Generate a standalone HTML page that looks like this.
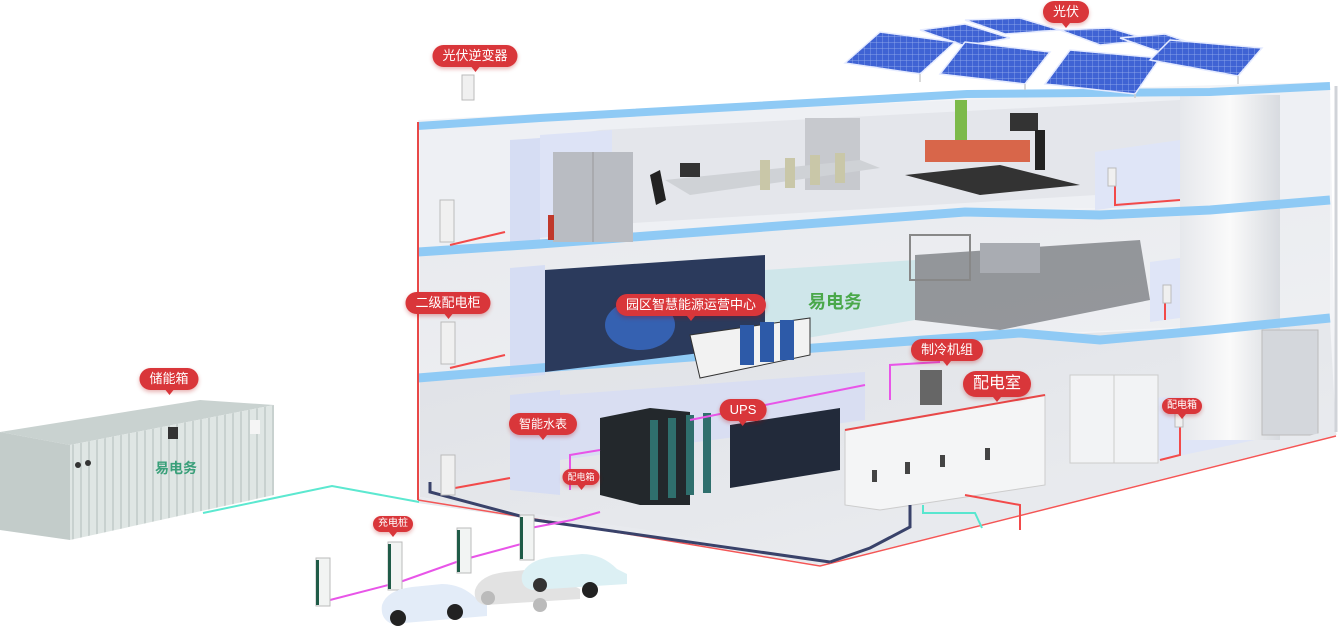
<!DOCTYPE html>
<html><head><meta charset="utf-8"><style>
html,body{margin:0;padding:0;background:#fff;}
body{width:1340px;height:642px;overflow:hidden;position:relative;font-family:"Liberation Sans","Noto Sans CJK SC",sans-serif;}
.lb{position:absolute;background:#d9363a;color:#fff;border-radius:12px;font-size:13px;line-height:22px;height:22px;padding:0 10px;white-space:nowrap;box-shadow:0 2px 4px rgba(180,0,0,.3);transform:translateX(-50%);}
.lb:after{content:"";position:absolute;left:50%;bottom:-5px;margin-left:-4px;border-left:4px solid transparent;border-right:4px solid transparent;border-top:5px solid #d9363a;}
.big{font-size:16px;height:26px;line-height:26px;border-radius:13px;}
.sm{font-size:9px;height:16px;line-height:16px;padding:0 5px;border-radius:8px;}
</style></head><body>
<svg width="1340" height="642" viewBox="0 0 1340 642" style="position:absolute;left:0;top:0">
<defs>
<linearGradient id="col" x1="0" x2="1"><stop offset="0" stop-color="#e6e8ec"/><stop offset=".5" stop-color="#fafafa"/><stop offset="1" stop-color="#d8dbe0"/></linearGradient>
<linearGradient id="flr" x1="0" x2="1" y1="0" y2="1"><stop offset="0" stop-color="#dfe1e6"/><stop offset="1" stop-color="#eceef1"/></linearGradient>
<pattern id="sol" width="6" height="6" patternUnits="userSpaceOnUse"><rect width="6" height="6" fill="#3f63d4"/><path d="M0,0H6M0,0V6" stroke="#9fb4f0" stroke-width=".7"/></pattern>
<pattern id="rib" width="8" height="10" patternUnits="userSpaceOnUse"><rect width="8" height="10" fill="#dfe6e4"/><rect width="2" height="10" fill="#c8d1cf"/></pattern>
</defs>
<!-- building base -->
<polygon points="418,120 967,92 1330,82 1336,430 820,562 418,500" fill="#f3f4f7"/>
<polygon points="420,255 540,246 960,212 1330,205 1330,320 1020,335 420,378" fill="url(#flr)" opacity=".55"/>
<polygon points="420,380 1020,336 1330,322 1336,430 820,560 420,497" fill="url(#flr)"/>
<polygon points="420,130 540,120 960,100 1330,88 1330,205 960,210 420,252" fill="#eef0f4"/>
<polygon points="540,140 600,130 1180,100 1180,190 600,225 540,235" fill="#e4e6eb"/>
<polygon points="510,140 540,138 540,240 510,245" fill="#d6ddf3"/>
<polygon points="540,135 612,130 612,230 540,238" fill="#dde3f6"/>
<polygon points="510,268 545,265 545,375 510,378" fill="#d6ddf3"/>
<polygon points="510,395 560,390 560,495 510,490" fill="#d6ddf3"/>
<polygon points="560,395 865,372 865,420 560,460" fill="#d9def2"/>
<polygon points="1095,152 1180,140 1180,200 1095,210" fill="#dfe5f7"/>
<polygon points="1150,262 1180,258 1180,318 1150,322" fill="#dfe5f7"/>
<polygon points="1150,398 1255,392 1255,440 1150,462" fill="#dfe5f7"/>
<polygon points="765,270 915,260 915,320 765,345" fill="#cfe6ea"/>
<rect x="1180" y="95" width="100" height="345" fill="url(#col)"/>
<rect x="1262" y="330" width="56" height="105" fill="#d4d7dc" stroke="#bbb"/>
<polyline points="418,126 540,118 967,94 1210,92 1330,86" fill="none" stroke="#8fcaf5" stroke-width="8"/>
<polyline points="418,252 540,244 965,212 1100,215 1210,210 1330,200" fill="none" stroke="#8fcaf5" stroke-width="9"/>
<polyline points="418,378 540,368 1020,333 1100,340 1210,330 1330,318" fill="none" stroke="#8fcaf5" stroke-width="9"/>
<polyline points="418,500 640,532 820,562 1336,432" fill="none" stroke="#e8eaee" stroke-width="6"/>
<polyline points="418,500 640,536 820,566 1336,436" fill="none" stroke="#f35656" stroke-width="1.5"/>
<line x1="418" y1="122" x2="418" y2="500" stroke="#e84848" stroke-width="2"/>
<line x1="1336" y1="86" x2="1336" y2="432" stroke="#d0d3d8" stroke-width="3"/>
<!-- solar -->
<g fill="url(#sol)" stroke="#e5ebff" stroke-width="1.5">
<polygon points="965,20 1020,18 1060,30 1005,34"/>
<polygon points="1060,30 1110,28 1150,40 1100,45"/>
<polygon points="920,30 965,24 1010,38 965,46"/>
<polygon points="1120,38 1165,34 1205,48 1160,52"/>
<polygon points="845,63 880,32 955,42 920,74"/>
<polygon points="940,74 965,42 1050,52 1025,84"/>
<polygon points="1045,84 1070,50 1160,58 1135,94"/>
<polygon points="1150,60 1170,40 1262,48 1238,76"/>
</g>
<g stroke="#ccc" stroke-width="1.5"><line x1="920" y1="74" x2="920" y2="82"/><line x1="1025" y1="84" x2="1025" y2="90"/><line x1="1135" y1="94" x2="1135" y2="98"/><line x1="1238" y1="76" x2="1238" y2="84"/></g>
<!-- 3F furniture -->
<rect x="553" y="152" width="80" height="90" fill="#b9bcc2"/>
<line x1="593" y1="152" x2="593" y2="242" stroke="#999"/>
<rect x="548" y="215" width="6" height="25" fill="#c0392b"/>
<rect x="805" y="118" width="55" height="72" fill="#c7c9ce"/>
<polygon points="665,180 860,160 880,168 690,195" fill="#cfd2d6"/>
<g fill="#c9c7a8"><rect x="760" y="160" width="10" height="30"/><rect x="785" y="158" width="10" height="30"/><rect x="810" y="155" width="10" height="30"/><rect x="835" y="153" width="10" height="30"/></g>
<rect x="680" y="163" width="20" height="14" fill="#333"/>
<path d="M650,175 l10,-5 l6,30 l-10,5z" fill="#222"/>
<polygon points="905,175 1000,165 1080,185 980,195" fill="#333"/>
<rect x="925" y="140" width="105" height="22" fill="#d8664a"/>
<rect x="1010" y="113" width="28" height="18" fill="#333"/>
<rect x="955" y="100" width="12" height="40" fill="#7cba4a"/>
<rect x="1035" y="130" width="10" height="40" fill="#222"/>
<!-- 2F -->
<polygon points="545,270 765,255 765,345 545,372" fill="#2b3a5c"/>
<ellipse cx="640" cy="325" rx="35" ry="25" fill="#3a72d6" opacity=".7"/>
<polygon points="690,335 810,318 810,355 700,378" fill="#f2f2f2" stroke="#333"/>
<g fill="#2d5aa8"><rect x="740" y="325" width="14" height="40"/><rect x="760" y="322" width="14" height="40"/><rect x="780" y="320" width="14" height="40"/></g>
<text x="808" y="308" font-size="18" font-weight="bold" fill="#4aa84a" font-family="Liberation Sans,Noto Sans CJK SC,sans-serif">易电务</text>
<polygon points="915,255 1140,240 1150,300 1000,330 915,320" fill="#7d7f84" opacity=".8"/>
<rect x="980" y="243" width="60" height="30" fill="#a9acb2"/>
<rect x="910" y="235" width="60" height="45" fill="none" stroke="#888" stroke-width="2"/>
<!-- 1F -->
<polygon points="600,418 650,408 690,412 690,505 640,505 600,495" fill="#23282c"/>
<g fill="#2f6f6d"><rect x="650" y="420" width="8" height="80"/><rect x="668" y="418" width="8" height="80"/><rect x="686" y="415" width="8" height="80"/><rect x="703" y="413" width="8" height="80"/></g>
<polygon points="730,425 840,408 840,470 730,488" fill="#222a3a"/>
<polygon points="845,430 1045,395 1045,485 880,510 845,505" fill="#f4f5f6" stroke="#ccc"/>
<line x1="845" y1="430" x2="1045" y2="395" stroke="#e84848" stroke-width="2"/>
<g fill="#444"><rect x="872" y="470" width="5" height="12"/><rect x="905" y="462" width="5" height="12"/><rect x="940" y="455" width="5" height="12"/><rect x="985" y="448" width="5" height="12"/></g>
<rect x="1070" y="375" width="88" height="88" fill="#f2f3f5" stroke="#ccc"/>
<line x1="1114" y1="375" x2="1114" y2="463" stroke="#ccc"/>
<rect x="920" y="370" width="22" height="35" fill="#666"/>
<!-- pipes -->
<polyline points="430,482 430,492 535,520 830,562" fill="none" stroke="#39426a" stroke-width="3"/>
<polyline points="830,562 870,548 910,527 910,505" fill="none" stroke="#39426a" stroke-width="3"/>
<polyline points="923,505 923,513 975,513 982,528" fill="none" stroke="#58e6cf" stroke-width="2"/>
<polyline points="965,495 1020,505 1020,530" fill="none" stroke="#f24a4a" stroke-width="2"/>
<polyline points="1160,460 1180,455 1180,420" fill="none" stroke="#f24a4a" stroke-width="2"/>
<polyline points="1115,185 1115,205 1180,200" fill="none" stroke="#f24a4a" stroke-width="2"/>
<polyline points="1165,300 1165,320" fill="none" stroke="#f24a4a" stroke-width="2"/>
<polyline points="450,245 505,232" fill="none" stroke="#f24a4a" stroke-width="2"/>
<polyline points="450,368 505,355" fill="none" stroke="#f24a4a" stroke-width="2"/>
<polyline points="455,488 510,478" fill="none" stroke="#f24a4a" stroke-width="2"/>
<polyline points="520,530 572,520 600,512" fill="none" stroke="#e855e8" stroke-width="2"/>
<polyline points="570,490 570,455 600,450" fill="none" stroke="#e855e8" stroke-width="2"/>
<polyline points="690,420 865,385" fill="none" stroke="#e855e8" stroke-width="2"/>
<polyline points="890,400 890,365 940,362" fill="none" stroke="#e855e8" stroke-width="2"/>
<g fill="#f0f0f0" stroke="#bbb"><rect x="440" y="200" width="14" height="42"/><rect x="441" y="322" width="14" height="42"/><rect x="441" y="455" width="14" height="40"/><rect x="462" y="75" width="12" height="25"/><rect x="1108" y="168" width="8" height="18"/><rect x="1163" y="285" width="8" height="18"/><rect x="1175" y="413" width="8" height="14"/></g>
<!-- container -->
<polygon points="0,432 200,400 274,405 70,445" fill="#c9d2d0"/>
<polygon points="0,432 70,445 70,540 0,530" fill="#c3ccca"/>
<polygon points="70,445 274,405 274,495 70,540" fill="url(#rib)"/>
<rect x="168" y="427" width="10" height="12" fill="#333"/>
<rect x="250" y="420" width="10" height="14" fill="#f5f5f5"/>
<circle cx="78" cy="465" r="3" fill="#333"/><circle cx="88" cy="463" r="3" fill="#333"/>
<text x="155" y="473" font-size="14" font-weight="bold" fill="#3aa07a" font-family="Liberation Sans,Noto Sans CJK SC,sans-serif">易电务</text>
<polyline points="203,513 332,486 419,502" fill="none" stroke="#5ce8d0" stroke-width="2"/>
<!-- chargers -->
<polyline points="330,600 400,582 462,560 525,543 528,515" fill="none" stroke="#e855e8" stroke-width="2"/>
<g fill="#f2f4f3" stroke="#bbb"><rect x="316" y="558" width="14" height="48"/><rect x="388" y="542" width="14" height="48"/><rect x="457" y="528" width="14" height="45"/><rect x="520" y="515" width="14" height="45"/></g>
<g fill="#1f5b47"><rect x="316" y="560" width="3" height="45"/><rect x="388" y="544" width="3" height="45"/><rect x="457" y="530" width="3" height="42"/><rect x="520" y="517" width="3" height="42"/></g>
<!-- cars -->
<path d="M382,605 q5,-15 30,-18 l30,-3 q20,0 35,15 l10,5 l0,12 l-95,8 q-12,-5 -10,-19z" fill="#e3ecf8"/>
<circle cx="398" cy="618" r="8" fill="#222"/><circle cx="455" cy="612" r="8" fill="#222"/>
<path d="M475,590 q5,-15 30,-18 l30,-3 q20,0 35,15 l10,5 l0,10 l-95,6 q-12,-3 -10,-15z" fill="#e2e2e2"/>
<circle cx="488" cy="598" r="7" fill="#bbb"/><circle cx="540" cy="605" r="7" fill="#bbb"/>
<path d="M522,575 q5,-15 30,-18 l30,-3 q20,0 35,15 l10,5 l0,10 l-95,6 q-12,-3 -10,-15z" fill="#dcf0f4"/>
<circle cx="590" cy="590" r="8" fill="#222"/><circle cx="540" cy="585" r="7" fill="#333"/>
</svg>
<div class="lb" style="left:1066px;top:1px">光伏</div>
<div class="lb" style="left:475px;top:45px">光伏逆变器</div>
<div class="lb" style="left:448px;top:292px">二级配电柜</div>
<div class="lb" style="left:691px;top:294px">园区智慧能源运营中心</div>
<div class="lb" style="left:169px;top:368px">储能箱</div>
<div class="lb" style="left:947px;top:339px">制冷机组</div>
<div class="lb big" style="left:997px;top:371px">配电室</div>
<div class="lb" style="left:743px;top:399px">UPS</div>
<div class="lb sm" style="left:1182px;top:398px;font-size:10px">配电箱</div>
<div class="lb" style="left:543px;top:413px;font-size:12px">智能水表</div>
<div class="lb sm" style="left:581px;top:469px">配电箱</div>
<div class="lb sm" style="left:393px;top:516px;font-size:10px">充电桩</div>
</body></html>
